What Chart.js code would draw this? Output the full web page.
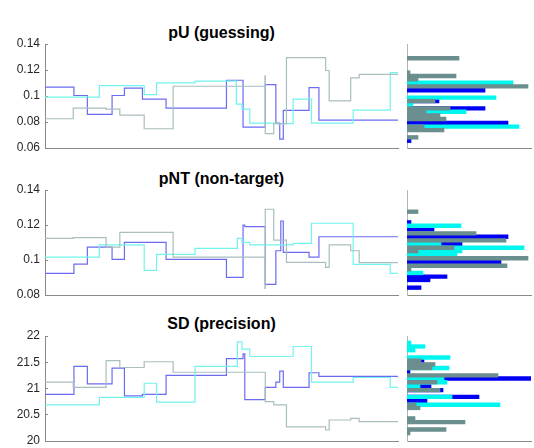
<!DOCTYPE html>
<html>
<head>
<meta charset="utf-8">
<script src="https://cdn.jsdelivr.net/npm/chart.js@4.4.0/dist/chart.umd.min.js"></script>
<style>
  body { margin: 0; background: #fff; }
  #wrap { position: relative; width: 534px; height: 448px; font-family: "Liberation Sans", Helvetica, Arial, sans-serif; }
  canvas { position: absolute; }
  .title { position: absolute; left: 45px; width: 353px; text-align: center; font-weight: bold; font-size: 16px; color: #000; line-height: 18px; }
</style>
</head>
<body>
<div id="wrap">
  <div class="title" style="top:24px">pU (guessing)</div>
  <div class="title" style="top:170px">pNT (non-target)</div>
  <div class="title" style="top:315px">SD (precision)</div>
  <canvas id="trace1"></canvas>
  <canvas id="hist1"></canvas>
  <canvas id="trace2"></canvas>
  <canvas id="hist2"></canvas>
  <canvas id="trace3"></canvas>
  <canvas id="hist3"></canvas>
</div>
<script>
// ---- DATA ----
// trace steps: x = iteration where a step starts, y = value from there on
const pU_blue_x  = [0, 82, 120, 190, 225, 276, 343, 514, 561, 624, 654, 665, 675, 748, 776, 1000];
const pU_blue_y  = [0.1068, 0.1004, 0.0858, 0.1004, 0.106, 0.0976, 0.0907, 0.1121, 0.0761, 0.1088, 0.0792, 0.0669, 0.0889, 0.1065, 0.0815, 0.0815];
const pU_cyan_x  = [0, 154, 281, 316, 425, 542, 558, 580, 656, 703, 755, 873, 978, 1000];
const pU_cyan_y  = [0.0991, 0.108, 0.1011, 0.1101, 0.1114, 0.0937, 0.0899, 0.0792, 0.0787, 0.0976, 0.0792, 0.0891, 0.118, 0.118];
const pU_gray_x  = [0, 80, 173, 212, 281, 363, 623, 624, 648, 684, 795, 805, 866, 890, 1000];
const pU_gray_y  = [0.0825, 0.0907, 0.0899, 0.0853, 0.0748, 0.1075, 0.1155, 0.071, 0.0787, 0.1295, 0.1196, 0.0963, 0.114, 0.1167, 0.1167];

const pNT_blue_x = [0, 82, 120, 190, 225, 343, 514, 561, 566, 624, 654, 668, 675, 748, 776, 1000];
const pNT_blue_y = [0.0924, 0.0977, 0.1074, 0.1004, 0.1101, 0.1004, 0.0901, 0.12, 0.1191, 0.0861, 0.1053, 0.1223, 0.1044, 0.1017, 0.1133, 0.1133];
const pNT_cyan_x = [0, 154, 281, 316, 425, 545, 558, 580, 703, 755, 873, 978, 1000];
const pNT_cyan_y = [0.1017, 0.1086, 0.0941, 0.1032, 0.1067, 0.1124, 0.1101, 0.1086, 0.1095, 0.121, 0.0975, 0.0924, 0.0924];
const pNT_gray_x = [0, 80, 173, 212, 363, 623, 624, 648, 684, 795, 805, 866, 890, 1000];
const pNT_gray_y = [0.1124, 0.1128, 0.1074, 0.1158, 0.1017, 0.0838, 0.129, 0.1114, 0.0987, 0.0958, 0.1086, 0.1053, 0.0985, 0.0985];

const SD_blue_x  = [0, 82, 120, 190, 225, 276, 343, 514, 561, 566, 624, 654, 665, 675, 748, 776, 1000];
const SD_blue_y  = [20.89, 21.42, 21.09, 21.39, 20.86, 20.89, 21.25, 21.57, 21.66, 20.79, 21.02, 21.12, 21.33, 21.02, 21.30, 21.23, 21.23];
const SD_cyan_x  = [0, 154, 281, 316, 425, 545, 558, 580, 703, 755, 873, 978, 1000];
const SD_cyan_y  = [20.69, 20.83, 21.10, 20.74, 21.42, 21.89, 21.75, 21.61, 21.80, 21.12, 21.21, 21.02, 21.02];
const SD_gray_x  = [0, 80, 173, 212, 281, 363, 624, 648, 684, 795, 805, 866, 890, 1000];
const SD_gray_y  = [21.12, 21.02, 21.53, 21.40, 21.51, 21.31, 20.75, 20.69, 20.27, 20.21, 20.40, 20.43, 20.37, 20.37];

// histograms: bin centre + count
const pU_hist_blue_c  = [0.1044, 0.0961, 0.0905, 0.0792, 0.0656];
const pU_hist_blue_n  = [78, 32, 78, 101, 4];
const pU_hist_cyan_c  = [0.1102, 0.0987, 0.0931, 0.0879, 0.0764];
const pU_hist_cyan_n  = [106, 89, 6, 59, 112];
const pU_hist_gray_c  = [0.129, 0.118, 0.1154, 0.1128, 0.1074, 0.0961, 0.0905, 0.0879, 0.0851, 0.0823, 0.0764, 0.0738, 0.0682];
const pU_hist_gray_n  = [52, 3, 49, 11, 121, 28, 43, 19, 33, 39, 17, 37, 11];

const pNT_hist_blue_c = [0.1215, 0.1175, 0.1133, 0.1091, 0.0988, 0.0905, 0.0886, 0.0842];
const pNT_hist_blue_n = [4, 27, 101, 55, 94, 40, 23, 14];
const pNT_hist_cyan_c = [0.1196, 0.1091, 0.1070, 0.1051, 0.1030, 0.0926];
const pNT_hist_cyan_n = [54, 34, 117, 55, 50, 16];
const pNT_hist_gray_c = [0.1276, 0.1152, 0.1112, 0.1070, 0.1051, 0.1010, 0.0967, 0.0947];
const pNT_hist_gray_n = [11, 69, 99, 47, 11, 121, 100, 4];

const SD_hist_blue_c  = [21.53, 21.32, 21.19, 21.04, 20.97, 20.84, 20.76];
const SD_hist_blue_n  = [17, 3, 127, 24, 36, 72, 20];
const SD_hist_cyan_c  = [21.87, 21.80, 21.73, 21.59, 21.39, 21.19, 21.12, 21.04, 20.84, 20.69];
const SD_hist_cyan_n  = [4, 18, 8, 43, 42, 37, 40, 13, 45, 93];
const SD_hist_gray_c  = [21.53, 21.46, 21.39, 21.25, 21.12, 20.97, 20.69, 20.63, 20.43, 20.36, 20.22, 20.15];
const SD_hist_gray_n  = [14, 28, 25, 91, 30, 33, 9, 13, 8, 58, 39, 3];

// y axis ticks per row
const pU_ticks  = [0.06, 0.08, 0.1, 0.12, 0.14];
const pNT_ticks = [0.08, 0.1, 0.12, 0.14];
const SD_ticks  = [20, 20.5, 21, 21.5, 22];

// ---- STYLE ----
const FONT = "'Liberation Sans', Helvetica, Arial, sans-serif";
const lineBlue = "#6b6bf2", lineCyan = "#72f3ec", lineGray = "#a9bebe";
const barBlue = "#0000f5", barCyan = "#00f7f0", barGray = "#6b8e8e";
const PAD = 16; // room for the y tick labels above / below the plot

function pts(xs, ys) {
  return xs.map((x, i) => ({ x: x, y: ys[i] }));
}

function place(id, left, top, w, h) {
  const c = document.getElementById(id);
  c.style.left = left + "px";
  c.style.top = top + "px";
  c.width = w; c.height = h;
  c.style.width = w + "px"; c.style.height = h + "px";
  return c;
}

// TRACE CHART
function traceChart(id, top, bottom, ticks, blue, cyan, gray) {
  const canvas = place(id, 0, top - PAD, 402, bottom - top + 2 * PAD);
  const line = (data, color) => ({
    data: data, borderColor: color, borderWidth: 1.2,
    stepped: true, pointRadius: 0, fill: false
  });
  new Chart(canvas, {
    type: "line",
    data: { datasets: [line(gray, lineGray), line(cyan, lineCyan), line(blue, lineBlue)] },
    options: {
      responsive: false, animation: false,
      layout: { padding: { top: PAD, bottom: PAD, left: 0, right: 4 } },
      plugins: { legend: { display: false }, tooltip: { enabled: false } },
      scales: {
        x: {
          type: "linear", min: 0, max: 1000,
          ticks: { display: false },
          grid: { display: false, drawTicks: false },
          border: { color: "#8a8a8a", width: 1 }
        },
        y: {
          min: ticks[0], max: ticks[ticks.length - 1],
          afterBuildTicks: (s) => { s.ticks = ticks.map(v => ({ value: v })); },
          afterFit: (s) => { s.width = 45; },
          ticks: {
            color: "#262626", padding: 8,
            font: { family: FONT, size: 12 },
            callback: (v) => String(v)
          },
          grid: { drawOnChartArea: false, tickLength: -3, color: "#8a8a8a" },
          border: { color: "#8a8a8a", width: 1 }
        }
      }
    }
  });
}

// HISTOGRAM CHART
function histChart(id, top, bottom, ticks, blue, cyan, gray) {
  const canvas = place(id, 400, top - 4, 134, bottom - top + 8);
  const bars = (data, color) => ({
    data: data, backgroundColor: color, borderWidth: 0,
    barThickness: 3.7, grouped: false
  });
  new Chart(canvas, {
    type: "bar",
    data: { datasets: [bars(gray, barGray), bars(cyan, barCyan), bars(blue, barBlue)] },
    options: {
      indexAxis: "y",
      responsive: false, animation: false,
      layout: { padding: { top: 4, bottom: 4, left: 7, right: 3 } },
      plugins: { legend: { display: false }, tooltip: { enabled: false } },
      scales: {
        x: {
          type: "linear", min: 0, max: 124,
          ticks: { display: false },
          grid: { display: false, drawTicks: false },
          border: { color: "#8a8a8a", width: 1 }
        },
        y: {
          type: "linear", offset: false,
          min: ticks[0], max: ticks[ticks.length - 1],
          ticks: { display: false },
          grid: { display: false, drawTicks: false },
          border: { color: "#b4b4b4", width: 1 }
        }
      }
    }
  });
}

traceChart("trace1", 44, 148, pU_ticks,
  pts(pU_blue_x, pU_blue_y), pts(pU_cyan_x, pU_cyan_y), pts(pU_gray_x, pU_gray_y));
histChart("hist1", 44, 148, pU_ticks,
  pts(pU_hist_blue_n, pU_hist_blue_c), pts(pU_hist_cyan_n, pU_hist_cyan_c), pts(pU_hist_gray_n, pU_hist_gray_c));

traceChart("trace2", 190, 295, pNT_ticks,
  pts(pNT_blue_x, pNT_blue_y), pts(pNT_cyan_x, pNT_cyan_y), pts(pNT_gray_x, pNT_gray_y));
histChart("hist2", 190, 295, pNT_ticks,
  pts(pNT_hist_blue_n, pNT_hist_blue_c), pts(pNT_hist_cyan_n, pNT_hist_cyan_c), pts(pNT_hist_gray_n, pNT_hist_gray_c));

traceChart("trace3", 336, 441, SD_ticks,
  pts(SD_blue_x, SD_blue_y), pts(SD_cyan_x, SD_cyan_y), pts(SD_gray_x, SD_gray_y));
histChart("hist3", 336, 441, SD_ticks,
  pts(SD_hist_blue_n, SD_hist_blue_c), pts(SD_hist_cyan_n, SD_hist_cyan_c), pts(SD_hist_gray_n, SD_hist_gray_c));
</script>
</body>
</html>
